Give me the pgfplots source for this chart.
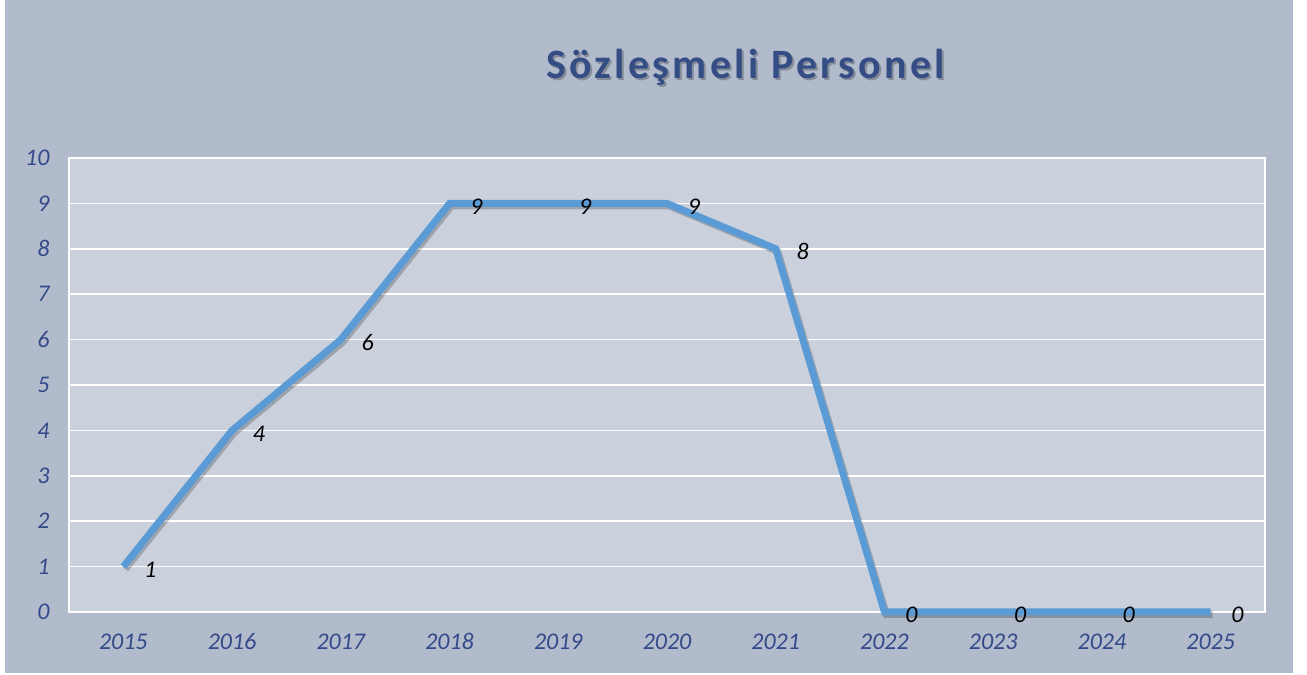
\documentclass[border=0pt]{standalone}
\usepackage{fontspec}
\setmainfont{Carlito}
\usepackage{pgfplots}
\pgfplotsset{compat=1.18}

\definecolor{bgouter}{HTML}{B2BBCB}
\definecolor{bgplot}{HTML}{CAD1DD}
\definecolor{tickblue}{HTML}{34498A}
\definecolor{titleblue}{HTML}{344E85}
\definecolor{linecol}{HTML}{5B9BD5}

\pgfplotstableread{
x val
0 1
1 4
2 6
3 9
4 9
5 9
6 8
7 0
8 0
9 0
10 0
}\personel

\begin{document}
\begin{tikzpicture}
\fill[white] (0bp,0bp) rectangle (1307bp,675bp);
\fill[bgouter] (5bp,2bp) rectangle (1293bp,675bp);
% title with a faint shadow
\node[text=black,opacity=0.25,font=\fontsize{42}{46}\selectfont\bfseries\addfontfeature{LetterSpace=8}] at (747.5bp,605.5bp) {Sözleşmeli Personel};
\node[text=titleblue,font=\fontsize{42}{46}\selectfont\bfseries\addfontfeature{LetterSpace=8}] at (745.5bp,608bp) {Sözleşmeli Personel};
\begin{axis}[
    at={(69bp,63bp)}, anchor=south west,
    scale only axis,
    width=1196bp, height=454bp,
    xmin=-0.5, xmax=10.5,
    ymin=0, ymax=10,
    xtick={0,...,10},
    xticklabels={2015,2016,2017,2018,2019,2020,2021,2022,2023,2024,2025},
    ytick={0,...,10},
    axis background/.style={fill=bgplot},
    axis line style={white, line width=1.5bp},
    major tick length=0pt,
    ymajorgrids,
    grid style={white, line width=1.5bp},
    /pgf/number format/assume math mode=true,
    tick label style={font=\fontsize{24}{26}\selectfont\itshape, text=tickblue},
    yticklabel style={anchor=east, xshift=-16bp},
    xticklabel style={anchor=base, yshift=-38bp},
    clip=false,
]
\addplot[black, opacity=0.22, line width=7bp, forget plot,
    transform canvas={xshift=2bp, yshift=-2.5bp}] table[x=x, y=val] {\personel};
\addplot[linecol, line width=7bp,
    nodes near coords,
    every node near coord/.append style={anchor=west, xshift=14bp, yshift=-3bp,
        font=\fontsize{24}{26}\selectfont\itshape, text=black}] table[x=x, y=val] {\personel};
\end{axis}
\end{tikzpicture}
\end{document}
